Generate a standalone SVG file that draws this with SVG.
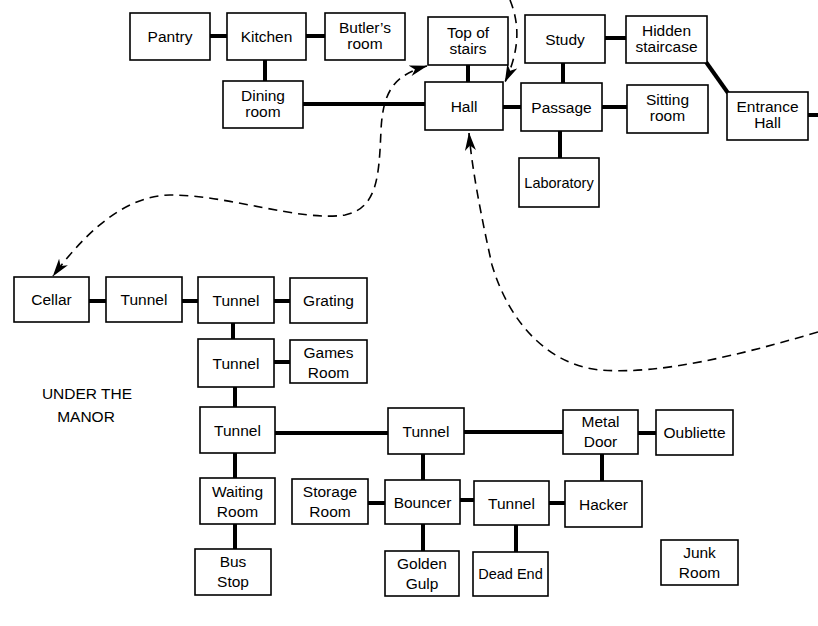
<svg xmlns="http://www.w3.org/2000/svg" width="818" height="626" viewBox="0 0 818 626">
<style>
rect{fill:#fff;stroke:#000;stroke-width:1.6}
text{font-family:"Liberation Sans",Arial,sans-serif;font-size:15.5px;fill:#000;text-anchor:middle}
.sm{font-size:14.5px}
.c line{stroke:#000;stroke-width:4}
.d{fill:none;stroke:#000;stroke-width:1.6;stroke-dasharray:9 6}
</style>
<defs>
<marker id="ah" viewBox="0 0 18 11" refX="17.5" refY="5.5" markerWidth="18" markerHeight="11" markerUnits="userSpaceOnUse" orient="auto-start-reverse">
<path d="M0,0 L18,5.5 L0,11 L5,5.5 z" fill="#000"/>
</marker>
</defs>
<rect x="0" y="0" width="818" height="626" style="stroke:none;fill:#fff"/>
<g class="c" id="connectors">
<line x1="210" y1="36" x2="227" y2="36"/>
<line x1="306" y1="36" x2="325" y2="36"/>
<line x1="265" y1="60" x2="265" y2="81"/>
<line x1="303" y1="104" x2="425" y2="104"/>
<line x1="468" y1="65" x2="468" y2="82"/>
<line x1="503" y1="107" x2="521" y2="107"/>
<line x1="563" y1="63" x2="563" y2="83"/>
<line x1="605" y1="38" x2="626" y2="38"/>
<line x1="602" y1="107" x2="627" y2="107"/>
<line x1="560" y1="131" x2="560" y2="158"/>
<line x1="706" y1="62" x2="728" y2="93"/>
<line x1="808" y1="115" x2="818" y2="115"/>
<line x1="89" y1="301" x2="106" y2="301"/>
<line x1="182" y1="301" x2="198" y2="301"/>
<line x1="274" y1="301" x2="290" y2="301"/>
<line x1="233" y1="323" x2="233" y2="339"/>
<line x1="274" y1="362" x2="290" y2="362"/>
<line x1="235" y1="387" x2="235" y2="407"/>
<line x1="275" y1="433" x2="388" y2="433"/>
<line x1="464" y1="432" x2="563" y2="432"/>
<line x1="638" y1="433" x2="656" y2="433"/>
<line x1="235" y1="453" x2="235" y2="478"/>
<line x1="235" y1="524" x2="235" y2="549"/>
<line x1="423" y1="454" x2="423" y2="480"/>
<line x1="368" y1="503" x2="385" y2="503"/>
<line x1="460" y1="500" x2="474" y2="500"/>
<line x1="549" y1="503" x2="565" y2="503"/>
<line x1="602" y1="454" x2="602" y2="481"/>
<line x1="423" y1="524" x2="423" y2="551"/>
<line x1="516" y1="525" x2="516" y2="552"/>
<path class="d" d="M510 0 C518 20, 522 45, 505 82" marker-end="url(#ah)"/>
<path class="d" d="M427 66 C395 75, 383 90, 381 130 C379 175, 378 208, 345 215 C300 222, 230 195, 170 195 C120 196, 80 240, 53 276" marker-start="url(#ah)" marker-end="url(#ah)"/>
<path class="d" d="M818 332 C740 355, 660 375, 600 370 C550 365, 510 325, 492 265 C482 220, 472 170, 469 133" marker-end="url(#ah)"/>
</g>
<g id="pantry"><rect x="130" y="13" width="80" height="47"/><text x="170" y="42">Pantry</text></g>
<g id="kitchen"><rect x="227" y="13" width="79" height="47"/><text x="266.5" y="42">Kitchen</text></g>
<g id="butler"><rect x="325" y="13" width="80" height="47"/><text x="365" y="33">Butler’s</text><text x="365" y="49">room</text></g>
<g id="topstairs"><rect x="428" y="17" width="80" height="48"/><text x="468" y="37.5">Top of</text><text x="468" y="53.5">stairs</text></g>
<g id="study"><rect x="525" y="15" width="80" height="48"/><text x="565" y="44.5">Study</text></g>
<g id="hidden"><rect x="626" y="16" width="81" height="47"/><text x="666.5" y="35.5">Hidden</text><text x="666.5" y="51.5">staircase</text></g>
<g id="dining"><rect x="223" y="81" width="80" height="47"/><text x="263" y="100.5">Dining</text><text x="263" y="116.5">room</text></g>
<g id="hall"><rect x="425" y="82" width="78" height="48"/><text x="464" y="111.5">Hall</text></g>
<g id="passage"><rect x="521" y="83" width="81" height="48"/><text x="561.5" y="112.5">Passage</text></g>
<g id="sitting"><rect x="627" y="85" width="81" height="48"/><text x="667.5" y="104.5">Sitting</text><text x="667.5" y="120.5">room</text></g>
<g id="entrance"><rect x="727" y="92" width="81" height="48"/><text x="767.5" y="111.5">Entrance</text><text x="767.5" y="127.5">Hall</text></g>
<g id="laboratory"><rect x="519" y="158" width="80" height="49"/><text class="sm" x="559" y="187.5">Laboratory</text></g>
<g id="cellar"><rect x="14" y="277" width="75" height="45"/><text x="51.5" y="305">Cellar</text></g>
<g id="tunnel1"><rect x="106" y="277" width="76" height="45"/><text x="144" y="305">Tunnel</text></g>
<g id="tunnel2"><rect x="198" y="277" width="76" height="46"/><text x="236" y="305.5">Tunnel</text></g>
<g id="grating"><rect x="290" y="278" width="77" height="45"/><text x="328.5" y="306">Grating</text></g>
<g id="tunnel3"><rect x="198" y="339" width="76" height="48"/><text x="236" y="368.5">Tunnel</text></g>
<g id="games"><rect x="290" y="340" width="77" height="43"/><text x="328.5" y="358">Games</text><text x="328.5" y="377.5">Room</text></g>
<g id="label-under"><text x="87" y="399">UNDER THE</text><text x="86" y="422">MANOR</text></g>
<g id="tunnel4"><rect x="200" y="407" width="75" height="46"/><text x="237.5" y="435.5">Tunnel</text></g>
<g id="tunnel5"><rect x="388" y="408" width="76" height="46"/><text x="426" y="436.5">Tunnel</text></g>
<g id="metal"><rect x="563" y="410" width="75" height="44"/><text x="600.5" y="427">Metal</text><text x="600.5" y="447">Door</text></g>
<g id="oubliette"><rect x="656" y="410" width="77" height="45"/><text x="694.5" y="438">Oubliette</text></g>
<g id="waiting"><rect x="200" y="478" width="75" height="46"/><text x="237.5" y="497">Waiting</text><text x="237.5" y="517">Room</text></g>
<g id="storage"><rect x="292" y="479" width="76" height="45"/><text x="330" y="497">Storage</text><text x="330" y="517">Room</text></g>
<g id="bouncer"><rect x="385" y="480" width="75" height="44"/><text x="422.5" y="507.5">Bouncer</text></g>
<g id="tunnel6"><rect x="474" y="481" width="75" height="44"/><text x="511.5" y="508.5">Tunnel</text></g>
<g id="hacker"><rect x="565" y="481" width="77" height="46"/><text x="603.5" y="509.5">Hacker</text></g>
<g id="busstop"><rect x="195" y="549" width="76" height="46"/><text x="233" y="567">Bus</text><text x="233" y="587">Stop</text></g>
<g id="golden"><rect x="385" y="551" width="74" height="45"/><text x="422" y="569">Golden</text><text x="422" y="589">Gulp</text></g>
<g id="deadend"><rect x="473" y="552" width="75" height="44"/><text class="sm" x="510.5" y="579">Dead End</text></g>
<g id="junk"><rect x="661" y="540" width="77" height="45"/><text x="699.5" y="558">Junk</text><text x="699.5" y="578">Room</text></g>
</svg>
